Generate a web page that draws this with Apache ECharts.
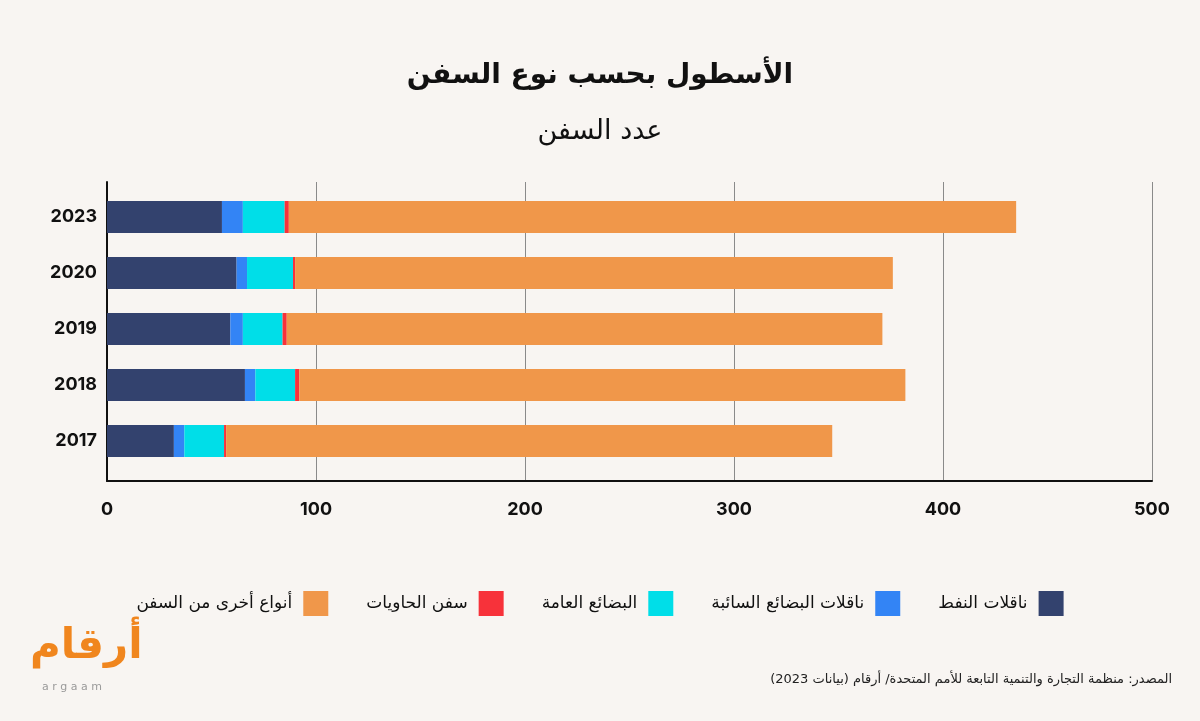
<!DOCTYPE html>
<html>
<head>
<meta charset="utf-8">
<script src="https://cdn.jsdelivr.net/npm/echarts@6/dist/echarts.min.js"></script>
<style>
  html, body { margin: 0; padding: 0; background: #f8f5f2; }
  #main { width: 1200px; height: 721px; }
</style>
</head>
<body>
<div id="main" dir="rtl"></div>
<script>
// years, bottom to top
var years = ['2017', '2018', '2019', '2020', '2023'];
var seriesNames = ['ناقلات النفط', 'ناقلات البضائع السائبة', 'البضائع العامة', 'سفن الحاويات', 'أنواع أخرى من السفن'];
var oilTankers = [32, 66, 59, 62, 55];
var bulkCarriers = [5, 5, 6, 5, 10];
var generalCargo = [19, 19, 19, 22, 20];
var containerShips = [1, 2, 2, 1, 2];
var otherTypes = [290, 290, 285, 286, 348];
var xTicks = [0, 100, 200, 300, 400, 500];

var colors = ['#33426e', '#3384f5', '#00dee8', '#f7323a', '#f0974a'];
var arFont = 'DejaVu Sans';
var numFont = 'Inter, DejaVu Sans';

var myChart = echarts.init(document.getElementById('main'));

var values = [oilTankers, bulkCarriers, generalCargo, containerShips, otherTypes];
var series = [];
for (var i = 0; i < seriesNames.length; i++) {
    series.push({
        name: seriesNames[i],
        type: 'bar',
        stack: 'total',
        xAxisIndex: 1,
        yAxisIndex: 1,
        barWidth: 32,
        itemStyle: { color: colors[i] },
        data: values[i]
    });
}

var option = {
    backgroundColor: '#f8f5f2',
    title: [
        {
            text: 'الأسطول بحسب نوع السفن',
            left: 'center',
            top: 57,
            textStyle: { fontFamily: arFont, fontSize: 28, fontWeight: 'bold', color: '#111' }
        },
        {
            text: 'عدد السفن',
            left: 'center',
            top: 113,
            textStyle: { fontFamily: arFont, fontSize: 27, fontWeight: 'normal', color: '#111' }
        }
    ],
    legend: {
        data: seriesNames.slice().reverse(),
        top: 586,
        left: 'center',
        align: 'right',
        itemWidth: 25,
        itemHeight: 25,
        itemGap: 38,
        icon: 'rect',
        textStyle: { fontFamily: arFont, fontSize: 17, color: '#111', padding: [0, 6, 0, 0] }
    },
    grid: [
        { left: 107, right: 48, top: 182, bottom: 240 },
        { left: 107, right: 48, top: 189, height: 280 }
    ],
    xAxis: [
        {
            type: 'value',
            gridIndex: 0,
            min: xTicks[0],
            max: xTicks[xTicks.length - 1],
            interval: 100,
            axisLine: { show: true, lineStyle: { color: '#111', width: 2 } },
            axisTick: { show: false },
            axisLabel: {
                margin: 20,
                fontFamily: numFont,
                fontSize: 18,
                fontWeight: 'bold',
                color: '#111'
            },
            splitLine: { show: true, lineStyle: { color: '#8a8a8a', width: 1 } }
        },
        {
            type: 'value',
            gridIndex: 1,
            min: xTicks[0],
            max: xTicks[xTicks.length - 1],
            show: false
        }
    ],
    yAxis: [
        {
            type: 'value',
            gridIndex: 0,
            min: 0,
            max: 1,
            axisLine: { show: true, lineStyle: { color: '#111', width: 2 } },
            axisTick: { show: false },
            axisLabel: { show: false },
            splitLine: { show: false }
        },
        {
            type: 'category',
            gridIndex: 1,
            data: years,
            axisLine: { show: false },
            axisTick: { show: false },
            axisLabel: {
                margin: 10,
                fontFamily: numFont,
                fontSize: 18,
                fontWeight: 'bold',
                color: '#111'
            }
        }
    ],
    graphic: [
        {
            type: 'text',
            right: 28,
            top: 673,
            style: {
                text: 'المصدر: منظمة التجارة والتنمية التابعة للأمم المتحدة/ أرقام (بيانات 2023)',
                fontFamily: arFont,
                fontSize: 13,
                fill: '#222'
            }
        },
        {
            type: 'text',
            left: 30,
            top: 626,
            style: {
                text: 'أرقام',
                fontFamily: arFont,
                fontSize: 42,
                fontWeight: 'bold',
                fill: '#f0861e'
            }
        },
        {
            type: 'text',
            left: 42,
            top: 682,
            style: {
                text: 'a r g a a m',
                fontFamily: 'DejaVu Sans',
                fontSize: 11,
                fill: '#9a9a9a'
            }
        }
    ],
    series: series
};

myChart.setOption(option);
</script>
</body>
</html>
